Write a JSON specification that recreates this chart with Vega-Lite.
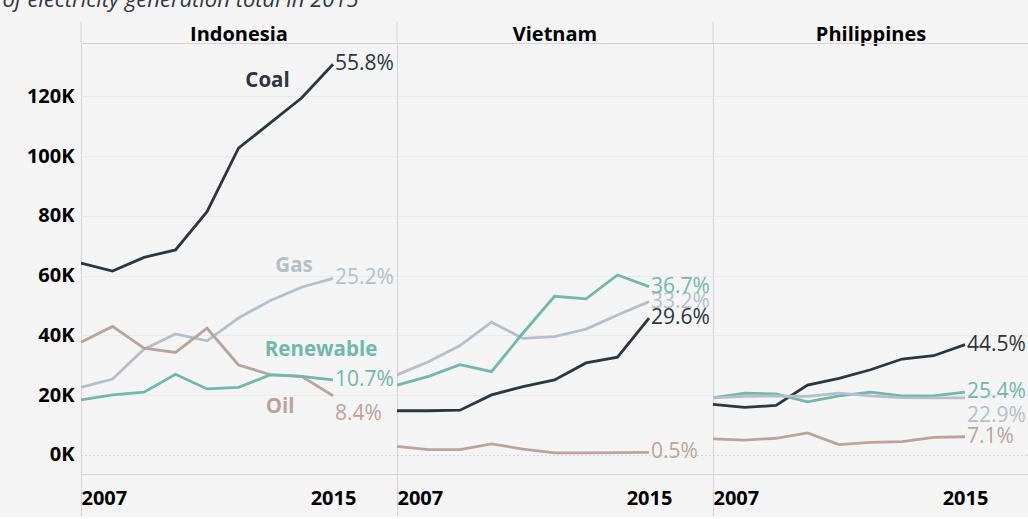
{
  "$schema": "https://vega.github.io/schema/vega-lite/v6.json",
  "background": "#f4f4f4",
  "padding": {"left": 2, "top": -11, "right": 0, "bottom": 0},
  "bounds": "flush",
  "title": {"text": "of electricity generation total in 2015", "anchor": "start", "frame": "bounds", "font": "Open Sans", "fontStyle": "italic", "fontWeight": "normal", "fontSize": 22, "color": "#333840", "offset": 8, "dx": -24},
  "data": {"values": [
    {"country": "Indonesia", "source": "Coal", "year": 2007, "value": 64200},
    {"country": "Indonesia", "source": "Coal", "year": 2008, "value": 61500},
    {"country": "Indonesia", "source": "Coal", "year": 2009, "value": 66100},
    {"country": "Indonesia", "source": "Coal", "year": 2010, "value": 68600},
    {"country": "Indonesia", "source": "Coal", "year": 2011, "value": 81400},
    {"country": "Indonesia", "source": "Coal", "year": 2012, "value": 102600},
    {"country": "Indonesia", "source": "Coal", "year": 2013, "value": 111000},
    {"country": "Indonesia", "source": "Coal", "year": 2014, "value": 119400},
    {"country": "Indonesia", "source": "Coal", "year": 2015, "value": 130700, "share": "55.8%"},
    {"country": "Indonesia", "source": "Gas", "year": 2007, "value": 22600},
    {"country": "Indonesia", "source": "Gas", "year": 2008, "value": 25400},
    {"country": "Indonesia", "source": "Gas", "year": 2009, "value": 35400},
    {"country": "Indonesia", "source": "Gas", "year": 2010, "value": 40500},
    {"country": "Indonesia", "source": "Gas", "year": 2011, "value": 38200},
    {"country": "Indonesia", "source": "Gas", "year": 2012, "value": 45800},
    {"country": "Indonesia", "source": "Gas", "year": 2013, "value": 51600},
    {"country": "Indonesia", "source": "Gas", "year": 2014, "value": 56100},
    {"country": "Indonesia", "source": "Gas", "year": 2015, "value": 59100, "share": "25.2%"},
    {"country": "Indonesia", "source": "Oil", "year": 2007, "value": 37700},
    {"country": "Indonesia", "source": "Oil", "year": 2008, "value": 43000},
    {"country": "Indonesia", "source": "Oil", "year": 2009, "value": 35700},
    {"country": "Indonesia", "source": "Oil", "year": 2010, "value": 34300},
    {"country": "Indonesia", "source": "Oil", "year": 2011, "value": 42400},
    {"country": "Indonesia", "source": "Oil", "year": 2012, "value": 30100},
    {"country": "Indonesia", "source": "Oil", "year": 2013, "value": 26900},
    {"country": "Indonesia", "source": "Oil", "year": 2014, "value": 26300},
    {"country": "Indonesia", "source": "Oil", "year": 2015, "value": 19800, "share": "8.4%"},
    {"country": "Indonesia", "source": "Renewable", "year": 2007, "value": 18400},
    {"country": "Indonesia", "source": "Renewable", "year": 2008, "value": 20100},
    {"country": "Indonesia", "source": "Renewable", "year": 2009, "value": 21000},
    {"country": "Indonesia", "source": "Renewable", "year": 2010, "value": 27000},
    {"country": "Indonesia", "source": "Renewable", "year": 2011, "value": 22100},
    {"country": "Indonesia", "source": "Renewable", "year": 2012, "value": 22600},
    {"country": "Indonesia", "source": "Renewable", "year": 2013, "value": 26800},
    {"country": "Indonesia", "source": "Renewable", "year": 2014, "value": 26300},
    {"country": "Indonesia", "source": "Renewable", "year": 2015, "value": 25100, "share": "10.7%"},
    {"country": "Vietnam", "source": "Coal", "year": 2007, "value": 14800},
    {"country": "Vietnam", "source": "Coal", "year": 2008, "value": 14800},
    {"country": "Vietnam", "source": "Coal", "year": 2009, "value": 15000},
    {"country": "Vietnam", "source": "Coal", "year": 2010, "value": 20100},
    {"country": "Vietnam", "source": "Coal", "year": 2011, "value": 22900},
    {"country": "Vietnam", "source": "Coal", "year": 2012, "value": 25100},
    {"country": "Vietnam", "source": "Coal", "year": 2013, "value": 30800},
    {"country": "Vietnam", "source": "Coal", "year": 2014, "value": 32700},
    {"country": "Vietnam", "source": "Coal", "year": 2015, "value": 45800, "share": "29.6%"},
    {"country": "Vietnam", "source": "Gas", "year": 2007, "value": 26800},
    {"country": "Vietnam", "source": "Gas", "year": 2008, "value": 31200},
    {"country": "Vietnam", "source": "Gas", "year": 2009, "value": 36600},
    {"country": "Vietnam", "source": "Gas", "year": 2010, "value": 44400},
    {"country": "Vietnam", "source": "Gas", "year": 2011, "value": 39000},
    {"country": "Vietnam", "source": "Gas", "year": 2012, "value": 39600},
    {"country": "Vietnam", "source": "Gas", "year": 2013, "value": 42100},
    {"country": "Vietnam", "source": "Gas", "year": 2014, "value": 46800},
    {"country": "Vietnam", "source": "Gas", "year": 2015, "value": 51300, "share": "33.2%"},
    {"country": "Vietnam", "source": "Renewable", "year": 2007, "value": 23400},
    {"country": "Vietnam", "source": "Renewable", "year": 2008, "value": 26300},
    {"country": "Vietnam", "source": "Renewable", "year": 2009, "value": 30200},
    {"country": "Vietnam", "source": "Renewable", "year": 2010, "value": 27900},
    {"country": "Vietnam", "source": "Renewable", "year": 2011, "value": 40800},
    {"country": "Vietnam", "source": "Renewable", "year": 2012, "value": 53100},
    {"country": "Vietnam", "source": "Renewable", "year": 2013, "value": 52200},
    {"country": "Vietnam", "source": "Renewable", "year": 2014, "value": 60200},
    {"country": "Vietnam", "source": "Renewable", "year": 2015, "value": 56300, "share": "36.7%"},
    {"country": "Vietnam", "source": "Oil", "year": 2007, "value": 2900},
    {"country": "Vietnam", "source": "Oil", "year": 2008, "value": 1800},
    {"country": "Vietnam", "source": "Oil", "year": 2009, "value": 1800},
    {"country": "Vietnam", "source": "Oil", "year": 2010, "value": 3700},
    {"country": "Vietnam", "source": "Oil", "year": 2011, "value": 2000},
    {"country": "Vietnam", "source": "Oil", "year": 2012, "value": 700},
    {"country": "Vietnam", "source": "Oil", "year": 2013, "value": 700},
    {"country": "Vietnam", "source": "Oil", "year": 2014, "value": 800},
    {"country": "Vietnam", "source": "Oil", "year": 2015, "value": 900, "share": "0.5%"},
    {"country": "Philippines", "source": "Coal", "year": 2007, "value": 16900},
    {"country": "Philippines", "source": "Coal", "year": 2008, "value": 15900},
    {"country": "Philippines", "source": "Coal", "year": 2009, "value": 16600},
    {"country": "Philippines", "source": "Coal", "year": 2010, "value": 23400},
    {"country": "Philippines", "source": "Coal", "year": 2011, "value": 25600},
    {"country": "Philippines", "source": "Coal", "year": 2012, "value": 28500},
    {"country": "Philippines", "source": "Coal", "year": 2013, "value": 32100},
    {"country": "Philippines", "source": "Coal", "year": 2014, "value": 33200},
    {"country": "Philippines", "source": "Coal", "year": 2015, "value": 36900, "share": "44.5%"},
    {"country": "Philippines", "source": "Renewable", "year": 2007, "value": 19100},
    {"country": "Philippines", "source": "Renewable", "year": 2008, "value": 20700},
    {"country": "Philippines", "source": "Renewable", "year": 2009, "value": 20400},
    {"country": "Philippines", "source": "Renewable", "year": 2010, "value": 17800},
    {"country": "Philippines", "source": "Renewable", "year": 2011, "value": 19800},
    {"country": "Philippines", "source": "Renewable", "year": 2012, "value": 21000},
    {"country": "Philippines", "source": "Renewable", "year": 2013, "value": 19800},
    {"country": "Philippines", "source": "Renewable", "year": 2014, "value": 19800},
    {"country": "Philippines", "source": "Renewable", "year": 2015, "value": 21000, "share": "25.4%"},
    {"country": "Philippines", "source": "Gas", "year": 2007, "value": 19100},
    {"country": "Philippines", "source": "Gas", "year": 2008, "value": 19600},
    {"country": "Philippines", "source": "Gas", "year": 2009, "value": 19800},
    {"country": "Philippines", "source": "Gas", "year": 2010, "value": 19600},
    {"country": "Philippines", "source": "Gas", "year": 2011, "value": 20700},
    {"country": "Philippines", "source": "Gas", "year": 2012, "value": 19800},
    {"country": "Philippines", "source": "Gas", "year": 2013, "value": 19200},
    {"country": "Philippines", "source": "Gas", "year": 2014, "value": 19100},
    {"country": "Philippines", "source": "Gas", "year": 2015, "value": 19100, "share": "22.9%"},
    {"country": "Philippines", "source": "Oil", "year": 2007, "value": 5400},
    {"country": "Philippines", "source": "Oil", "year": 2008, "value": 5000},
    {"country": "Philippines", "source": "Oil", "year": 2009, "value": 5600},
    {"country": "Philippines", "source": "Oil", "year": 2010, "value": 7400},
    {"country": "Philippines", "source": "Oil", "year": 2011, "value": 3500},
    {"country": "Philippines", "source": "Oil", "year": 2012, "value": 4200},
    {"country": "Philippines", "source": "Oil", "year": 2013, "value": 4500},
    {"country": "Philippines", "source": "Oil", "year": 2014, "value": 5900},
    {"country": "Philippines", "source": "Oil", "year": 2015, "value": 6100, "share": "7.1%"}
  ]},
  "facet": {
    "column": {
      "field": "country", "type": "nominal",
      "sort": ["Indonesia", "Vietnam", "Philippines"],
      "header": {"title": null, "labelFont": "Open Sans", "labelFontSize": 20, "labelFontWeight": "bold", "labelColor": "#000000", "labelPadding": -2}
    }
  },
  "spacing": 0,
  "spec": {
    "width": 316,
    "height": 431,
    "encoding": {
      "x": {
        "field": "year", "type": "quantitative",
        "scale": {"domain": [2007, 2017.03], "nice": false, "zero": false},
        "axis": {
          "values": [2007, 2015], "format": "d", "title": null, "domain": false, "grid": false,
          "ticks": true, "tickSize": 42,
          "tickColor": {"condition": {"test": "datum.value === 2007", "value": "#d4d4d4"}, "value": "transparent"},
          "labelPadding": -28, "labelFlush": true,
          "labelFont": "Open Sans", "labelFontSize": 20, "labelFontWeight": "bold", "labelColor": "#000000"
        }
      },
      "y": {
        "field": "value", "type": "quantitative",
        "scale": {"domain": [-6355, 137793], "nice": false, "zero": false},
        "axis": {
          "values": [0, 20000, 40000, 60000, 80000, 100000, 120000],
          "labelExpr": "(datum.value / 1000) + 'K'",
          "title": null, "ticks": false, "domain": false, "labelPadding": 7,
          "labelFont": "Open Sans", "labelFontSize": 20, "labelFontWeight": "bold", "labelColor": "#000000",
          "grid": true,
          "gridColor": {"condition": {"test": "datum.value === 0", "value": "#b8b8b8"}, "value": "#e9e9e9"},
          "gridDash": {"condition": {"test": "datum.value === 0", "value": [1, 3]}, "value": []}
        }
      },
      "color": {
        "field": "source", "type": "nominal",
        "scale": {"domain": ["Coal", "Gas", "Renewable", "Oil"], "range": ["#2d363b", "#b4c0c7", "#70b8a8", "#b9a49c"]},
        "legend": null
      }
    },
    "layer": [
      {
        "transform": [{"filter": "datum.year === 2007 && datum.source === 'Coal'"}],
        "mark": {"type": "rule", "clip": false, "strokeWidth": 1},
        "encoding": {
          "x": {"datum": 2007, "type": "quantitative"},
          "y": {"datum": 137793, "type": "quantitative"},
          "y2": {"datum": 145000},
          "color": {"value": "#d4d4d4"}
        }
      },
      {"mark": {"type": "line", "strokeWidth": 2.8}},
      {
        "transform": [{"filter": "datum.year === 2015 && !((datum.country === 'Indonesia' && datum.source === 'Oil') || (datum.country === 'Philippines' && datum.source === 'Gas'))"}],
        "mark": {"type": "text", "align": "left", "baseline": "middle", "dx": 2, "font": "Open Sans", "fontSize": 21},
        "encoding": {"text": {"field": "share", "type": "nominal"}}
      },
      {
        "transform": [{"filter": "datum.year === 2015 && ((datum.country === 'Indonesia' && datum.source === 'Oil') || (datum.country === 'Philippines' && datum.source === 'Gas'))"}],
        "mark": {"type": "text", "align": "left", "baseline": "middle", "dx": 2, "dy": 18, "font": "Open Sans", "fontSize": 21},
        "encoding": {"text": {"field": "share", "type": "nominal"}}
      },
      {
        "transform": [{"filter": "datum.country === 'Indonesia' && datum.year === 2014 && datum.source === 'Coal'"}],
        "mark": {"type": "text", "align": "center", "baseline": "middle", "dx": -34, "dy": -17, "font": "Open Sans", "fontSize": 20.5, "fontWeight": "bold"},
        "encoding": {"text": {"field": "source", "type": "nominal"}}
      },
      {
        "transform": [{"filter": "datum.country === 'Indonesia' && datum.year === 2014 && datum.source === 'Gas'"}],
        "mark": {"type": "text", "align": "center", "baseline": "middle", "dx": -7.5, "dy": -21, "font": "Open Sans", "fontSize": 20.5, "fontWeight": "bold"},
        "encoding": {"text": {"field": "source", "type": "nominal"}}
      },
      {
        "transform": [{"filter": "datum.country === 'Indonesia' && datum.year === 2014 && datum.source === 'Renewable'"}],
        "mark": {"type": "text", "align": "center", "baseline": "middle", "dx": 19.5, "dy": -26, "font": "Open Sans", "fontSize": 20.5, "fontWeight": "bold"},
        "encoding": {"text": {"field": "source", "type": "nominal"}}
      },
      {
        "transform": [{"filter": "datum.country === 'Indonesia' && datum.year === 2014 && datum.source === 'Oil'"}],
        "mark": {"type": "text", "align": "center", "baseline": "middle", "dx": -21.5, "dy": 31, "font": "Open Sans", "fontSize": 20.5, "fontWeight": "bold"},
        "encoding": {"text": {"field": "source", "type": "nominal"}}
      }
    ]
  },
  "config": {
    "font": "Open Sans",
    "view": {"stroke": "#d4d4d4", "strokeWidth": 1}
  }
}
